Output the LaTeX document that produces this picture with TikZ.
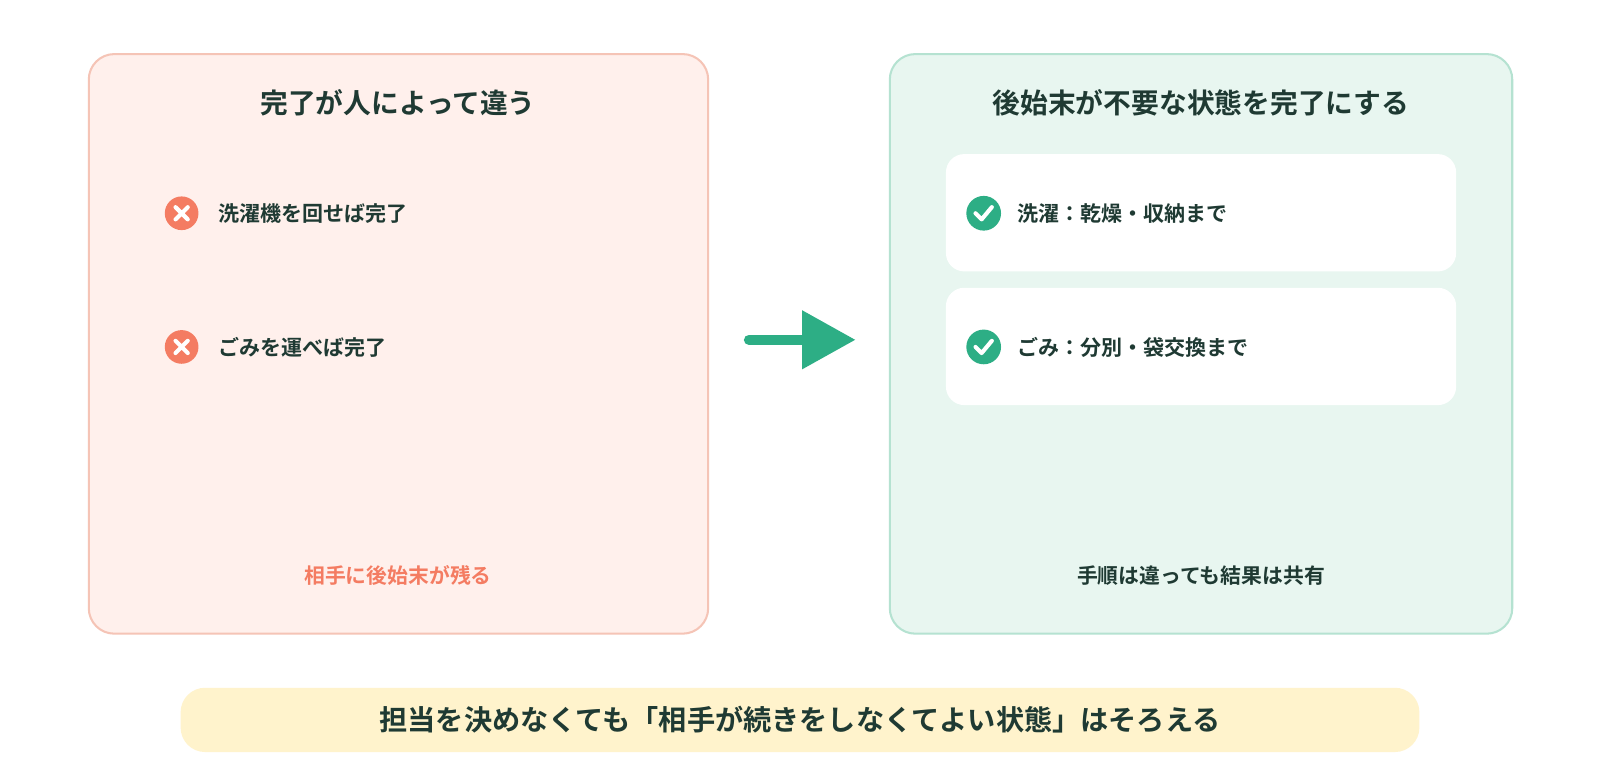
\documentclass[tikz,border=0pt]{standalone}
\usepackage{fontspec}
\setmainfont{Noto Sans CJK JP}[BoldFont={* Bold}]
\definecolor{txt}{HTML}{1F3A33}
\definecolor{redf}{HTML}{FFF0EC}
\definecolor{redb}{HTML}{F5C4B6}
\definecolor{redi}{HTML}{F47C62}
\definecolor{grnf}{HTML}{E8F6F0}
\definecolor{grnb}{HTML}{B5E2D1}
\definecolor{grn}{HTML}{2DAE85}
\definecolor{yel}{HTML}{FFF3CC}
\begin{document}
\begin{tikzpicture}[x=0.5pt,y=-0.5pt,
  panel/.style={rounded corners=12.5pt,line width=1pt},
  title/.style={font=\fontsize{13.6}{15}\selectfont\bfseries,text=txt},
  item/.style={font=\fontsize{10.3}{12}\selectfont\bfseries,text=txt,anchor=west},
  foot/.style={font=\fontsize{10.2}{12}\selectfont\bfseries},
  xicon/.style={circle,fill=redi,minimum size=16.5pt,inner sep=0pt},
  cicon/.style={circle,fill=grn,minimum size=17pt,inner sep=0pt}]
\fill[white] (0,0) rectangle (1568,764);
\draw[panel,fill=redf,draw=redb] (87,53) rectangle (694,621);
\draw[panel,fill=grnf,draw=grnb] (872,53) rectangle (1482,621);
\fill[white,rounded corners=9pt] (927,151) rectangle (1427,266);
\fill[white,rounded corners=9pt] (927,282) rectangle (1427,397);
\fill[yel,rounded corners=12pt] (177,674) rectangle (1391,737);
\node[title] (lt) at (390,101) {完了が人によって違う};
\node[title] (rt) at (1177,101) {後始末が不要な状態を完了にする};
\node[xicon] (x1) at (178,209) {};
\node[xicon] (x2) at (178,340) {};
\foreach \n in {x1,x2}{\draw[white,line width=2pt,line cap=round] ([shift={(-6,-6)}]\n.center) -- ([shift={(6,6)}]\n.center) ([shift={(-6,6)}]\n.center) -- ([shift={(6,-6)}]\n.center);}
\node[item] (l1) at (207,209) {洗濯機を回せば完了};
\node[item] (l2) at (207,340) {ごみを運べば完了};
\node[cicon] (c1) at (964,209) {};
\node[cicon] (c2) at (964,340) {};
\foreach \n in {c1,c2}{\draw[white,line width=2pt,line cap=round,line join=round] ([shift={(-8,0)}]\n.center) -- ([shift={(-2,6)}]\n.center) -- ([shift={(8,-6)}]\n.center);}
\node[item] (r1) at (990,209) {洗濯：乾燥・収納まで};
\node[item] (r2) at (990,340) {ごみ：分別・袋交換まで};
\node[foot,text=redi] (lf) at (390,564) {相手に後始末が残る};
\node[foot,text=txt] (rf) at (1177,564) {手順は違っても結果は共有};
\coordinate (a0) at (734,333);
\coordinate (a1) at (790,333);
\draw[grn,line width=5pt,line cap=round] (a0) -- (a1);
\fill[grn] (786,304) -- (838,333) -- (786,362) -- cycle;
\node[title,font=\fontsize{13.8}{15}\selectfont\bfseries] (bt) at (784,705) {担当を決めなくても「相手が続きをしなくてよい状態」はそろえる};
\pgfresetboundingbox
\path (0,0) rectangle (1568,764);
\end{tikzpicture}
\end{document}
